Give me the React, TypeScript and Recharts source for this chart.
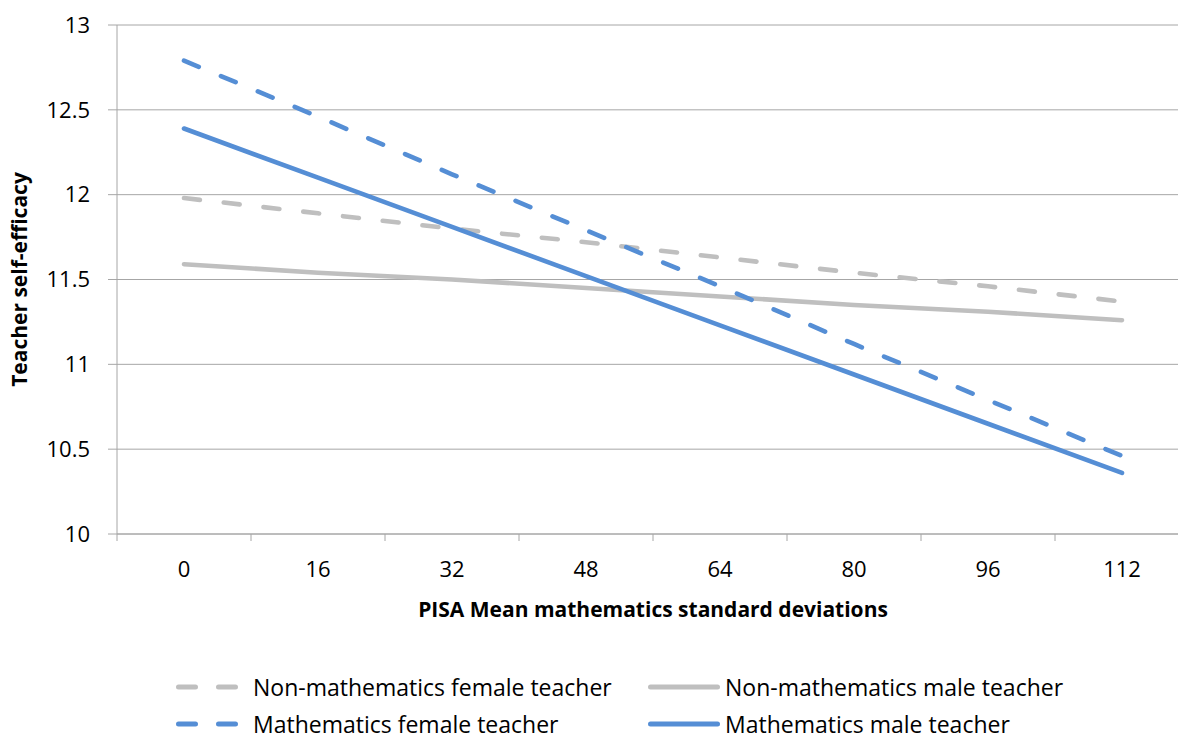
import React from "react";
import { LineChart, Line, XAxis, YAxis, CartesianGrid } from "recharts";

// x categories (PISA mean mathematics standard deviations)
const categories = ["0", "16", "32", "48", "64", "80", "96", "112"];

// teacher self-efficacy
const nonMathFemale = [11.98, 11.89, 11.8, 11.72, 11.63, 11.54, 11.46, 11.37];
const nonMathMale = [11.59, 11.54, 11.5, 11.45, 11.4, 11.35, 11.31, 11.26];
const mathFemale = [12.79, 12.46, 12.12, 11.79, 11.46, 11.12, 10.79, 10.46];
const mathMale = [12.39, 12.1, 11.81, 11.52, 11.23, 10.94, 10.65, 10.36];

const yTicks = [10, 10.5, 11, 11.5, 12, 12.5, 13];

const BLUE = "#558ed5";
const GRAY = "#bfbfbf";
const AXIS = "#a6a6a6";
const FONT = "'Open Sans', sans-serif";
const TICK_SIZE = 7;
const TICK_MARGIN = 20;

const series = [
  { key: "nmf", name: "Non-mathematics female teacher", color: GRAY, dashed: true, values: nonMathFemale },
  { key: "nmm", name: "Non-mathematics male teacher", color: GRAY, dashed: false, values: nonMathMale },
  { key: "mf", name: "Mathematics female teacher", color: BLUE, dashed: true, values: mathFemale },
  { key: "mm", name: "Mathematics male teacher", color: BLUE, dashed: false, values: mathMale },
];

const data = categories.map((c, i) => {
  const row: Record<string, string | number> = { x: c };
  series.forEach((s) => (row[s.key] = s.values[i]));
  return row;
});

// category label in the middle of the band, tick marks on the band edges (Excel style)
const XTick = (props: any) => {
  const { x, y, payload, index, visibleTicksCount } = props;
  const half = payload.offset || 0;
  const axisY = y - TICK_SIZE - TICK_MARGIN;
  const isLast = index === visibleTicksCount - 1;
  return (
    <g>
      <line x1={x - half} x2={x - half} y1={axisY} y2={axisY + TICK_SIZE} stroke={AXIS} />
      {isLast && <line x1={x + half} x2={x + half} y1={axisY} y2={axisY + TICK_SIZE} stroke={AXIS} />}
      <text x={x} y={y} dy="0.71em" textAnchor="middle" fontSize={22} fontFamily={FONT} fill="#000">
        {payload.value}
      </text>
    </g>
  );
};

const LegendIcon = ({ color, dashed }: { color: string; dashed: boolean }) => (
  <svg width={72} height={10} style={{ display: "block", marginRight: 5 }}>
    <line
      x1={2.5}
      x2={69.5}
      y1={5}
      y2={5}
      stroke={color}
      strokeWidth={5}
      strokeLinecap="round"
      strokeDasharray={dashed ? "17 23" : undefined}
    />
  </svg>
);

export default function App() {
  return (
    <div
      style={{
        position: "absolute",
        left: 0,
        top: 0,
        width: 1178,
        height: 740,
        overflow: "hidden",
        background: "#fff",
        fontFamily: FONT,
      }}
    >
      <LineChart width={1200} height={740} data={data} margin={{ top: 25, right: 11, left: 0, bottom: 116 }}>
        <CartesianGrid vertical={false} stroke={AXIS} strokeWidth={1} />
        <XAxis
          dataKey="x"
          type="category"
          scale="band"
          height={90}
          axisLine={{ stroke: AXIS }}
          tickLine={false}
          tickSize={TICK_SIZE}
          tickMargin={TICK_MARGIN}
          interval={0}
          tick={<XTick />}
          label={{
            content: (props: any) => {
              const vb = props.viewBox || {};
              return (
                <text
                  x={vb.x + vb.width / 2}
                  y={vb.y + 83}
                  textAnchor="middle"
                  fontSize={21}
                  fontWeight="bold"
                  fontFamily={FONT}
                  fill="#000"
                >
                  PISA Mean mathematics standard deviations
                </text>
              );
            },
          }}
        />
        <YAxis
          type="number"
          domain={[10, 13]}
          ticks={yTicks}
          width={117}
          tickSize={9}
          tickMargin={18}
          axisLine={{ stroke: AXIS }}
          tickLine={{ stroke: AXIS }}
          tick={{ fontSize: 22, fill: "#000", fontFamily: FONT }}
          label={{
            content: (props: any) => {
              const vb = props.viewBox || {};
              const cy = vb.y + vb.height / 2;
              return (
                <text
                  x={19}
                  y={cy}
                  transform={`rotate(-90, 19, ${cy})`}
                  textAnchor="middle"
                  dominantBaseline="central"
                  fontSize={21}
                  fontWeight="bold"
                  fontFamily={FONT}
                  fill="#000"
                >
                  Teacher self-efficacy
                </text>
              );
            },
          }}
        />
        {series.map((s) => (
          <Line
            key={s.key}
            type="linear"
            dataKey={s.key}
            name={s.name}
            stroke={s.color}
            strokeWidth={4.6}
            strokeLinecap="round"
            strokeDasharray={s.dashed ? "16 24" : undefined}
            dot={false}
            activeDot={false}
            isAnimationActive={false}
          />
        ))}
      </LineChart>
      <div
        style={{
          position: "absolute",
          left: 176,
          top: 676,
          display: "grid",
          gridTemplateColumns: "472px auto",
          gridAutoRows: "22px",
          rowGap: 15,
          fontSize: 23,
          lineHeight: "22px",
          color: "#000",
        }}
      >
        {series.map((s) => (
          <div key={s.key} style={{ display: "flex", alignItems: "center", whiteSpace: "nowrap" }}>
            <LegendIcon color={s.color} dashed={s.dashed} />
            <span>{s.name}</span>
          </div>
        ))}
      </div>
    </div>
  );
}
